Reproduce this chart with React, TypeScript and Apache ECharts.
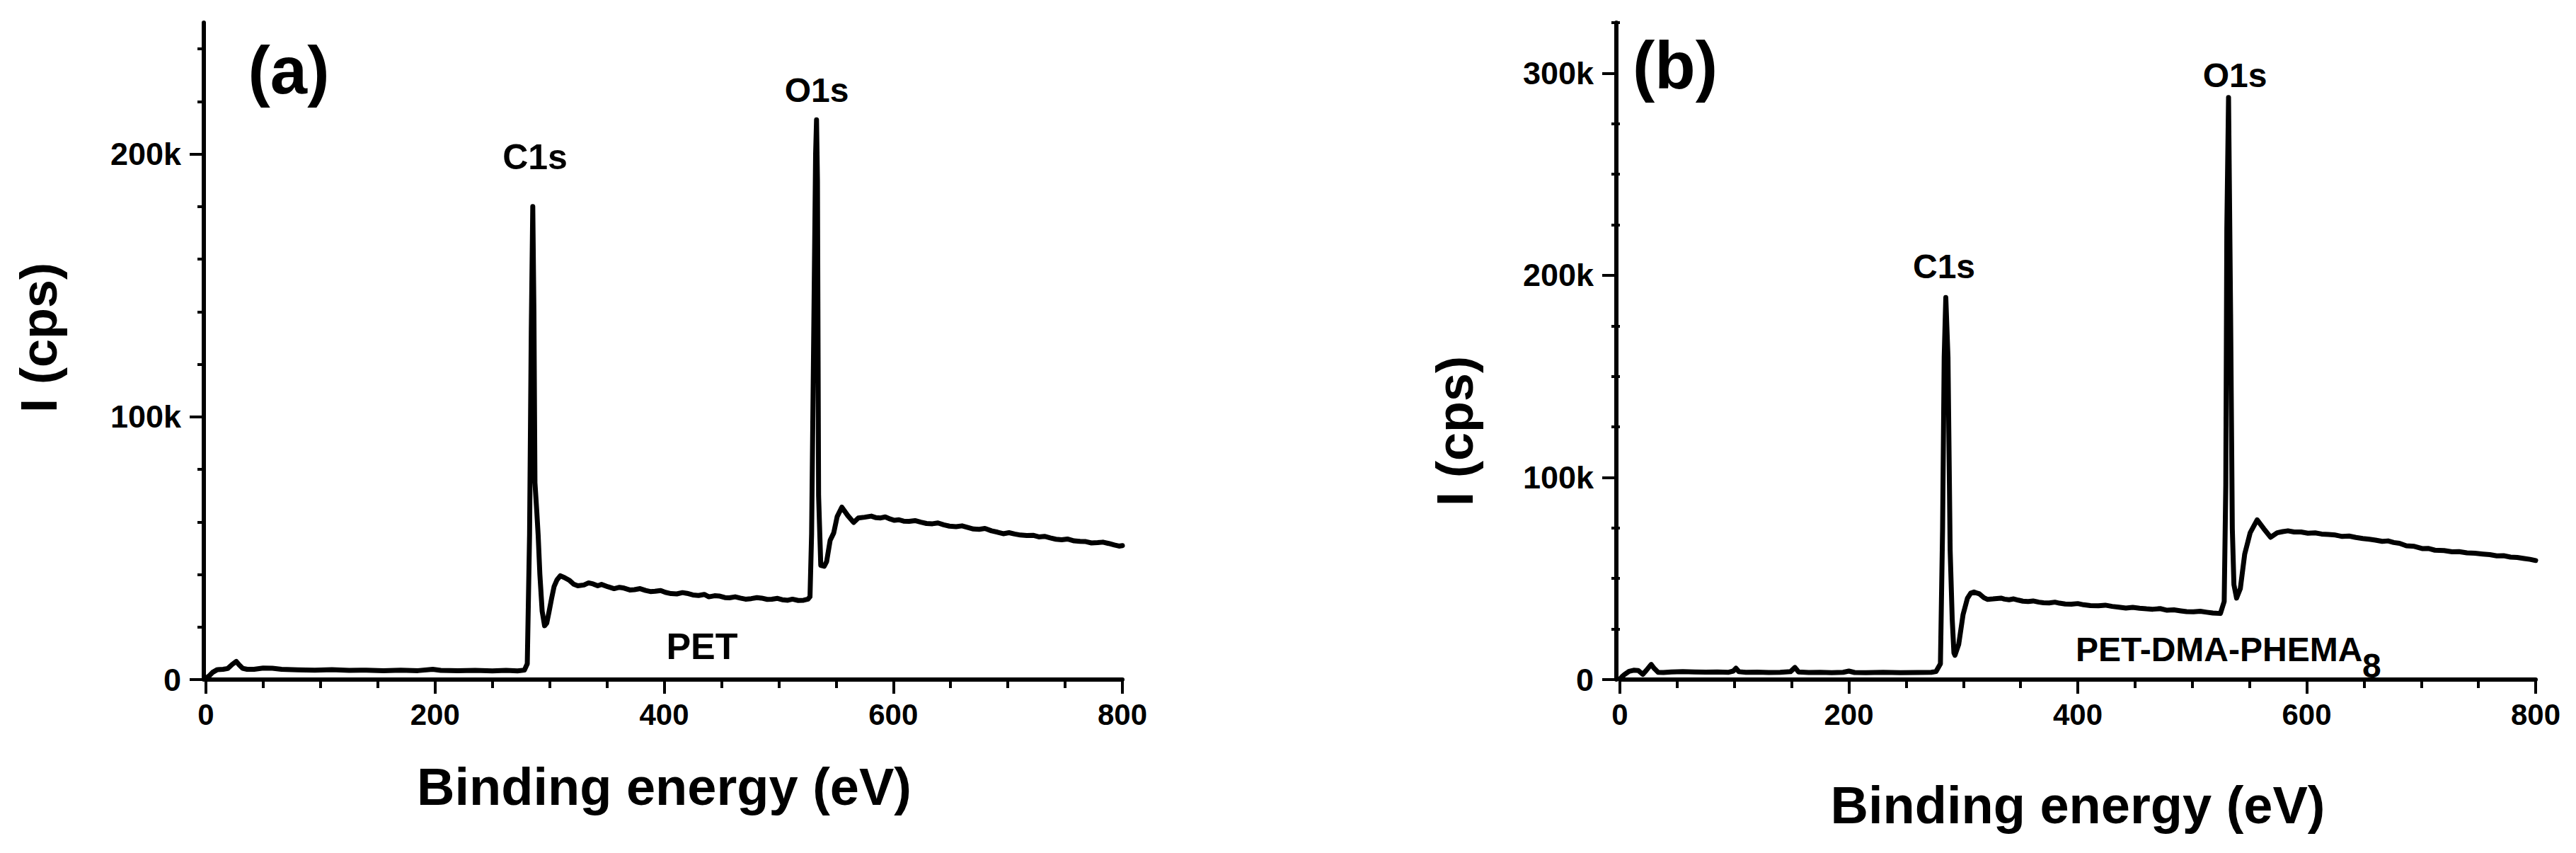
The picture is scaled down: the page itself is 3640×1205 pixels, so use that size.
import React, { useEffect, useRef } from "react";
import * as echarts from "echarts";

// ---------------- DATA ----------------
// Panel (a): PET — binding energy (eV) and intensity (thousands of cps)
const energyA = [
  0, 3, 6, 10, 15, 19, 23, 26.5, 29, 32, 36, 42, 50, 58, 66, 80, 95, 110, 125, 140,
  155, 170, 185, 198, 205, 220, 235, 250, 262, 272, 278, 280.5, 282.5, 284, 285.3, 286.3, 287.2, 288.8, 290, 291.5,
  293.5, 295.6, 297.5, 299.6, 301.8, 303.9, 306.5, 309.4, 313, 317.5, 321, 324.6, 330, 334, 338, 342, 345.3, 351, 356.3, 361,
  365, 370, 374, 379, 383.8, 388, 392, 397, 401, 406, 411, 416, 420, 425, 430, 435, 439, 444, 448, 453,
  457, 462, 466.4, 471, 476, 481, 485, 490, 494, 499, 503, 508, 512, 517, 521.7, 525.5, 527.3, 528.7, 530.6, 532.2,
  533, 533.8, 534.8, 536.7, 539.7, 541.8, 544.9, 548, 551, 555.1, 560.3, 565.4, 569.5, 575, 580.8, 585, 589, 593, 597.3, 601,
  605, 609, 613.8, 619, 624, 629, 634.2, 639, 644, 649, 654.8, 660, 665, 670, 675, 680, 685.7, 691, 696, 701,
  706, 711, 716.5, 722, 727, 732, 737, 742, 747, 752, 757.8, 763, 768, 773, 778.4, 783, 788, 793, 797, 800,
];
const countsA = [
  0.5, 1.5, 2.8, 3.8, 3.9, 4.2, 5.8, 6.9, 5.6, 4.3, 3.9, 3.9, 4.4, 4.3, 3.9, 3.7, 3.6, 3.8, 3.5, 3.6,
  3.4, 3.6, 3.4, 3.9, 3.5, 3.4, 3.5, 3.3, 3.5, 3.3, 3.6, 6.0, 55, 133, 180, 140, 75, 64, 55, 40,
  26, 20.5, 21.5, 26, 31, 35.4, 38, 39.5, 38.8, 37.7, 36.3, 35.7, 36, 36.8, 36.4, 35.7, 36.2, 35.3, 34.6, 35.1,
  34.8, 34.1, 34.2, 34.6, 33.9, 33.5, 33.6, 33.9, 33.2, 32.7, 32.6, 33.1, 32.8, 32.2, 32, 32.4, 31.5, 31.9, 31.8, 31.2,
  31.1, 31.5, 31, 30.6, 30.8, 31.2, 31, 30.5, 30.6, 30.9, 30.4, 30.2, 30.6, 30.1, 30.2, 30.6, 31.5, 55.5, 133, 200,
  213, 190, 70, 43.5, 43.1, 44.9, 53, 55.8, 62, 65.6, 62.4, 59.8, 61.5, 61.8, 62.2, 61.6, 61.5, 61.9, 61.1, 60.6,
  60.8, 60.3, 60.2, 60.5, 59.9, 59.4, 59.3, 59.6, 58.9, 58.4, 58.2, 58.5, 57.9, 57.3, 57.2, 57.5, 56.6, 56.1, 55.5, 55.9,
  55.4, 55.0, 54.8, 54.9, 54.3, 54.5, 53.9, 53.4, 53.2, 53.5, 52.8, 52.6, 52.5, 52.0, 52.1, 52.3, 51.8, 51.2, 50.8, 51,
];

// Panel (b): PET-DMA-PHEMA8
const energyB = [
  0, 2, 4, 8, 12, 16, 20, 23, 27.3, 30, 33.4, 38, 45, 55, 65, 75, 85, 95, 99, 101.4,
  104, 110, 120, 130, 140, 149, 152.9, 156, 165, 175, 185, 195, 200, 205, 215, 230, 245, 260, 272, 276.2,
  280, 281.9, 283.3, 284.7, 286.6, 288.5, 290.3, 291.8, 292.7, 296, 299.8, 303.6, 306.5, 309.3, 314, 318, 321, 326, 332.9, 336,
  340, 344, 348, 352, 356.6, 361, 366, 370, 375, 380, 384, 389, 394.4, 400, 405, 411, 418, 424, 430, 436,
  442, 448, 454, 460, 465.4, 472, 478, 484, 490, 495, 501, 507, 512.7, 518, 524.6, 527.9, 529.3, 530.2, 531.7, 533.5,
  535, 536.4, 538.7, 542, 545.8, 550.6, 556.7, 562.4, 568.5, 574.2, 579, 583.6, 589, 595, 601, 607.4, 613, 619, 625, 631,
  637, 643, 649, 654.7, 660, 666, 671, 676, 681, 687, 694, 700.8, 706, 712, 720, 727, 733, 740, 747, 754,
  760, 766, 772, 778, 784, 790, 795, 800,
];
const countsB = [
  0.3, 1.5, 2.5, 4.1, 4.6, 4.5, 2.6, 4.5, 7.5, 5.5, 3.6, 3.5, 3.8, 3.9, 3.8, 3.7, 3.8, 3.6, 4.2, 5.6,
  3.9, 3.6, 3.7, 3.5, 3.6, 3.9, 6.0, 3.8, 3.5, 3.6, 3.4, 3.6, 4.2, 3.5, 3.4, 3.6, 3.4, 3.5, 3.6, 4,
  7.8, 74.7, 159.6, 189, 159.6, 64, 30, 13.2, 12, 17.5, 32.2, 40.2, 42.8, 43.3, 42.4, 40.5, 39.7, 39.9, 40.3, 39.8,
  39.5, 39.9, 39.3, 38.8, 38.6, 38.9, 38.3, 38.0, 37.9, 38.3, 37.8, 37.4, 37.3, 37.6, 37, 36.6, 36.5, 36.8, 36.2, 35.8,
  35.4, 35.7, 35.3, 35.0, 34.8, 35.1, 34.3, 34.5, 34, 33.6, 33.5, 33.8, 33.3, 32.9, 32.7, 38.6, 96, 223, 288, 180.7,
  74.7, 47, 40.3, 45, 62, 72.6, 79, 74.7, 70.4, 72.6, 73.2, 73.6, 73.0, 73, 72.4, 72.6, 72.0, 71.8, 71.5, 70.8,
  71.0, 70.3, 69.8, 69.4, 69.0, 68.4, 68.6, 67.8, 67.4, 66.2, 65.9, 64.8, 64.9, 64, 63.8, 63.2, 63.3, 62.7, 62.5, 62.1,
  61.8, 61.2, 61.3, 60.6, 60.4, 59.9, 59.5, 58.9,
];

// Axis ticks (y in thousands of cps)
const yMajorA = [0, 100, 200];
const yMinorA = [20, 40, 60, 80, 120, 140, 160, 180, 220, 240];
const yMajorB = [0, 100, 200, 300];
const yMinorB = [25, 50, 75, 125, 150, 175, 225, 250, 275, 325];
const xMin = 0;
const xMax = 800;
const xStep = 200;

const FONT = '"Liberation Sans", Arial, Helvetica, sans-serif';
const BLACK = "#000";

function mkX(grid: number, gap: number) {
  return {
    type: "value",
    gridIndex: grid,
    min: xMin,
    max: xMax,
    interval: xStep,
    axisLine: { show: true, onZero: false, lineStyle: { color: BLACK, width: 6 } },
    axisTick: { show: true, inside: false, length: 20, lineStyle: { color: BLACK, width: 4 } },
    minorTick: { show: true, splitNumber: 4, length: 12, lineStyle: { color: BLACK, width: 4 } },
    axisLabel: { show: true, margin: 28, color: BLACK, fontSize: 42, fontWeight: "bold", fontFamily: FONT },
    splitLine: { show: false },
    minorSplitLine: { show: false },
    name: "Binding energy (eV)",
    nameLocation: "middle",
    nameGap: gap,
    nameTextStyle: { color: BLACK, fontSize: 74, fontWeight: "bold", fontFamily: FONT },
  };
}

function mkY(grid: number, max: number, majors: number[], offset: number) {
  return {
    type: "value",
    gridIndex: grid,
    position: "left",
    min: 0,
    max,
    interval: 100,
    offset,
    axisLine: { show: true, onZero: false, lineStyle: { color: BLACK, width: 6 } },
    axisTick: { show: true, inside: false, length: 20, customValues: majors, lineStyle: { color: BLACK, width: 4 } },
    axisLabel: {
      show: true,
      customValues: majors,
      margin: 32,
      color: BLACK,
      fontSize: 45,
      fontWeight: "bold",
      fontFamily: FONT,
      formatter: (v: number) => (v === 0 ? "0" : v + "k"),
    },
    splitLine: { show: false },
  };
}

function mkYMinor(grid: number, max: number, minors: number[], offset: number) {
  return {
    type: "value",
    gridIndex: grid,
    position: "left",
    min: 0,
    max,
    interval: 100,
    offset,
    axisLine: { show: false },
    axisTick: { show: true, inside: false, length: 12, customValues: minors, lineStyle: { color: BLACK, width: 4 } },
    axisLabel: { show: false },
    splitLine: { show: false },
  };
}

function txt(
  text: string,
  x: number,
  y: number,
  size: number,
  align: string = "center",
  rotation: number = 0
) {
  return {
    type: "text",
    x,
    y,
    rotation,
    silent: true,
    style: {
      text,
      fill: BLACK,
      font: `bold ${size}px ${FONT}`,
      textAlign: align,
      textVerticalAlign: "middle",
      align,
      verticalAlign: "middle",
    },
  };
}

function buildOption() {
  const pairsA = energyA.map((e, i) => [e, countsA[i]]);
  const pairsB = energyB.map((e, i) => [e, countsB[i]]);
  const lineStyle = { color: BLACK, width: 7, join: "round", cap: "round" };
  return {
    animation: false,
    backgroundColor: "#fff",
    grid: [
      { left: 291, top: 32, width: 1295, height: 928 },
      { left: 2289, top: 32, width: 1294, height: 928 },
    ],
    xAxis: [mkX(0, 114), mkX(1, 140)],
    yAxis: [
      mkY(0, 250, yMajorA, 3),
      mkYMinor(0, 250, yMinorA, 3),
      mkY(1, 325, yMajorB, 5),
      mkYMinor(1, 325, yMinorB, 5),
    ],
    series: [
      {
        type: "line",
        name: "PET",
        xAxisIndex: 0,
        yAxisIndex: 0,
        data: pairsA,
        showSymbol: false,
        symbol: "none",
        silent: true,
        lineStyle,
      },
      {
        type: "line",
        name: "PET-DMA-PHEMA8",
        xAxisIndex: 1,
        yAxisIndex: 2,
        data: pairsB,
        showSymbol: false,
        symbol: "none",
        silent: true,
        lineStyle,
      },
    ],
    graphic: [
      txt("I (cps)", 55, 477, 72, "center", Math.PI / 2),
      txt("I (cps)", 2056, 609, 72, "center", Math.PI / 2),
      txt("(a)", 408, 99, 94),
      txt("(b)", 2367, 92, 94),
      txt("C1s", 756, 222, 50),
      txt("O1s", 1154, 127, 48),
      txt("PET", 992, 913, 52),
      txt("C1s", 2747, 376, 48),
      txt("O1s", 3158, 106, 48),
      txt("PET-DMA-PHEMA", 2933, 917, 48, "left"),
      txt("8", 3338, 940, 48, "left"),
    ],
  };
}

export default function App() {
  const ref = useRef<HTMLDivElement | null>(null);
  useEffect(() => {
    if (!ref.current) return;
    const chart = echarts.init(ref.current, undefined, { renderer: "svg" });
    chart.setOption(buildOption() as any);
    return () => {
      chart.dispose();
    };
  }, []);
  return (
    <div
      ref={ref}
      style={{ position: "fixed", left: 0, top: 0, width: 3640, height: 1205, background: "#fff" }}
    />
  );
}
